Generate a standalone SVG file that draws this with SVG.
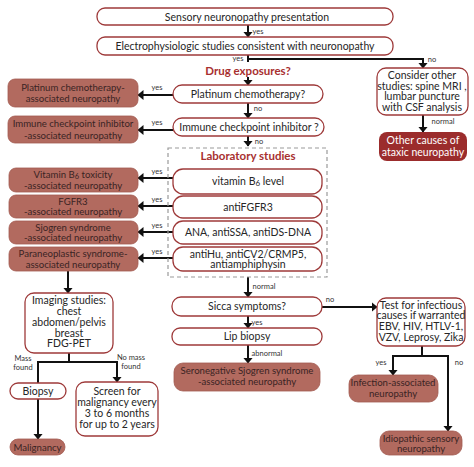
<svg xmlns="http://www.w3.org/2000/svg" width="474" height="467" viewBox="0 0 474 467">
<defs>
<style>
text{font-family:Lato,"Liberation Sans",sans-serif;font-size:10.5px;fill:#262626;text-anchor:middle}
.box{fill:#fff;stroke:#9e3a3a;stroke-width:1.3}
.res{fill:#b26a5f;stroke:#a25a50;stroke-width:0.8}
.rt{fill:#3a2424;font-size:9.6px}
.dark{fill:#9b2c2c}
.wt{fill:#fff}
.hd{font-weight:bold;fill:#a83030;font-size:11.5px}
.lb{font-size:7.5px;fill:#333}
.ln{stroke:#111;stroke-width:2;fill:none}
.ar{stroke:#111;stroke-width:2;fill:none;marker-end:url(#ah)}
.dash{fill:none;stroke:#9a9a9a;stroke-width:1.2;stroke-dasharray:4 3}
</style>
<marker id="ah" viewBox="0 0 6 10" refX="5.5" refY="5" markerWidth="6" markerHeight="10" markerUnits="userSpaceOnUse" orient="auto">
<path d="M0,0 L6,5 L0,10 z" fill="#111"/>
</marker>
</defs>
<rect width="474" height="467" fill="#fff"/>

<g id="connectors">
<line class="ar" x1="248" y1="25" x2="248" y2="37"/>
<polyline class="ln" points="248,55 248,62"/>
<polyline class="ar" points="248,59 423,59 423,68"/>
<line class="ar" x1="248" y1="77" x2="248" y2="85"/>
<line class="ar" x1="173" y1="95" x2="138" y2="95"/>
<line class="ar" x1="248" y1="103" x2="248" y2="118"/>
<line class="ar" x1="173" y1="130" x2="138" y2="130"/>
<line class="ar" x1="248" y1="136" x2="248" y2="146"/>
<line class="ar" x1="173" y1="178" x2="138" y2="178"/>
<line class="ar" x1="173" y1="206" x2="138" y2="206"/>
<line class="ar" x1="173" y1="232" x2="138" y2="232"/>
<line class="ar" x1="173" y1="258" x2="138" y2="258"/>
<line class="ar" x1="68" y1="271" x2="68" y2="293"/>
<line class="ar" x1="248" y1="277" x2="248" y2="297"/>
<line class="ar" x1="322" y1="307" x2="377" y2="307"/>
<line class="ar" x1="248" y1="316" x2="248" y2="328"/>
<line class="ar" x1="248" y1="345" x2="248" y2="363"/>
<line class="ar" x1="423" y1="115" x2="423" y2="132"/>
<polyline class="ln" points="69,353 69,362"/>
<polyline class="ln" points="38,383 38,362 117,362"/>
<line class="ar" x1="117" y1="361" x2="117" y2="382"/>
<line class="ar" x1="38" y1="399" x2="38" y2="439"/>
<polyline class="ln" points="422,346 422,356"/>
<polyline class="ar" points="448,356 393,356 393,375"/>
<line class="ar" x1="448" y1="355" x2="448" y2="431"/>
<text class="lb" x="258" y="34">yes</text>
<text class="lb" x="238" y="61">yes</text>
<text class="lb" x="432" y="62">no</text>
<text class="lb" x="157" y="90">yes</text>
<text class="lb" x="258" y="111">no</text>
<text class="lb" x="157" y="125">yes</text>
<text class="lb" x="259" y="144">no</text>
<text class="lb" x="157" y="174">yes</text>
<text class="lb" x="157" y="202">yes</text>
<text class="lb" x="157" y="228">yes</text>
<text class="lb" x="157" y="254">yes</text>
<text class="lb" x="264" y="289">normal</text>
<text class="lb" x="330" y="302">no</text>
<text class="lb" x="257" y="325">yes</text>
<text class="lb" x="267" y="356">abnormal</text>
<text class="lb" x="443" y="124">normal</text>
<text class="lb" x="23" y="361">Mass</text>
<text class="lb" x="23" y="370">found</text>
<text class="lb" x="131" y="359.5">No mass</text>
<text class="lb" x="131" y="368.5">found</text>
<text class="lb" x="381" y="365">yes</text>
<text class="lb" x="459" y="365">no</text>
</g>

<g id="n_sensory"><rect class="box" x="97" y="8" width="296" height="17" rx="8"/><text x="247" y="20.5">Sensory neuronopathy presentation</text></g>
<g id="n_electro"><rect class="box" x="97" y="37" width="296" height="18" rx="8"/><text x="245" y="50" font-size="10">Electrophysiologic studies consistent with neuronopathy</text></g>
<g id="n_drug"><text class="hd" x="248" y="74.5">Drug exposures?</text></g>
<g id="n_platq"><rect class="box" x="173" y="85" width="150" height="18" rx="9"/><text x="248" y="97.5">Platinum chemotherapy?</text></g>
<g id="n_platr"><rect class="res" x="8" y="79" width="130" height="28" rx="7"/><text class="rt" x="73" y="90.5">Platinum chemotherapy-</text><text class="rt" x="73" y="102">associated neuropathy</text></g>
<g id="n_iciq"><rect class="box" x="173" y="118" width="151" height="18" rx="9"/><text x="249" y="130.5">Immune checkpoint inhibitor ?</text></g>
<g id="n_icir"><rect class="res" x="8" y="116" width="130" height="27" rx="7"/><text class="rt" x="73" y="127">Immune checkpoint inhibitor</text><text class="rt" x="73" y="139">-associated neuropathy</text></g>
<g id="n_consider"><rect class="box" x="377" y="68" width="91" height="47" rx="9"/><text x="422" y="79">Consider other</text><text x="422" y="89.5">studies: spine MRI ,</text><text x="422" y="100">lumbar puncture</text><text x="422" y="110.5">with CSF analysis</text></g>
<g id="n_other"><rect class="dark" x="379" y="132" width="88" height="29" rx="8"/><text class="wt" x="423" y="144">Other causes  of</text><text class="wt" x="423" y="155.5">ataxic neuropathy</text></g>
<g id="n_lab"><rect class="dash" x="168" y="148" width="159" height="129"/><text class="hd" x="248" y="160">Laboratory studies</text></g>
<g id="n_b6"><rect class="box" x="173" y="169" width="149" height="25" rx="10"/><text x="248" y="185">vitamin B<tspan font-size="8" dy="1">6</tspan><tspan dy="-1"> level</tspan></text></g>
<g id="n_fgfr"><rect class="box" x="173" y="196" width="149" height="22" rx="10"/><text x="248" y="210.5">antiFGFR3</text></g>
<g id="n_ana"><rect class="box" x="173" y="221" width="149" height="23" rx="10"/><text x="248" y="236">ANA, antiSSA, antiDS-DNA</text></g>
<g id="n_hu"><rect class="box" x="173" y="247" width="149" height="24" rx="10"/><text x="248" y="257.5">antiHu, antiCV2/CRMP5,</text><text x="248" y="268">antiamphiphysin</text></g>
<g id="n_b6r"><rect class="res" x="9" y="168" width="129" height="24" rx="7"/><text class="rt" x="73" y="178">Vitamin B<tspan font-size="7.5" dy="1">6</tspan><tspan dy="-1"> toxicity</tspan></text><text class="rt" x="73" y="189">-associated neuropathy</text></g>
<g id="n_fgfrr"><rect class="res" x="9" y="195" width="129" height="23" rx="7"/><text class="rt" x="73" y="204.5">FGFR3</text><text class="rt" x="73" y="215">-associated neuropathy</text></g>
<g id="n_sjr"><rect class="res" x="9" y="221" width="129" height="23" rx="7"/><text class="rt" x="73" y="230.5">Sjogren syndrome</text><text class="rt" x="73" y="241">-associated neuropathy</text></g>
<g id="n_parar"><rect class="res" x="9" y="247" width="129" height="24" rx="7"/><text class="rt" x="73" y="257">Paraneoplastic syndrome-</text><text class="rt" x="73" y="268">associated neuropathy</text></g>
<g id="n_imaging"><rect class="box" x="25" y="293" width="88" height="60" rx="9"/><text x="69" y="304">Imaging studies:</text><text x="69" y="314.5">chest</text><text x="69" y="325.5">abdomen/pelvis</text><text x="69" y="336.5">breast</text><text x="69" y="347">FDG-PET</text></g>
<g id="n_biopsy"><rect class="box" x="10" y="383" width="56" height="16" rx="8"/><text x="38" y="395">Biopsy</text></g>
<g id="n_malig"><rect class="res" x="10" y="439" width="55" height="16" rx="8"/><text class="rt" x="37.5" y="451">Malignancy</text></g>
<g id="n_screen"><rect class="box" x="76" y="382" width="82" height="54" rx="9"/><text x="117" y="395">Screen for</text><text x="117" y="406">malignancy every</text><text x="117" y="417">3 to 6 months</text><text x="117" y="428">for up to 2 years</text></g>
<g id="n_sicca"><rect class="box" x="172" y="297" width="150" height="19" rx="9"/><text x="247" y="310">Sicca symptoms?</text></g>
<g id="n_lip"><rect class="box" x="172" y="328" width="150" height="17" rx="8"/><text x="247" y="340">Lip biopsy</text></g>
<g id="n_sero"><rect class="res" x="174" y="363" width="146" height="28" rx="9"/><text class="rt" x="247" y="374">Seronegative Sjogren syndrome</text><text class="rt" x="247" y="385">-associated neuropathy</text></g>
<g id="n_test"><rect class="box" x="377" y="298" width="88" height="48" rx="9"/><text x="421" y="308.5">Test for infectious</text><text x="421" y="319">causes if warranted</text><text x="421" y="329.5">EBV, HIV, HTLV-1,</text><text x="421" y="341">VZV, Leprosy, Zika</text></g>
<g id="n_inf"><rect class="res" x="349" y="375" width="89" height="27" rx="9"/><text class="rt" x="393" y="386">Infection-associated</text><text class="rt" x="393" y="397">neuropathy</text></g>
<g id="n_idio"><rect class="res" x="380" y="431" width="82" height="24" rx="9"/><text class="rt" x="421" y="441.5">Idiopathic sensory</text><text class="rt" x="421" y="452">neuropathy</text></g>
</svg>
